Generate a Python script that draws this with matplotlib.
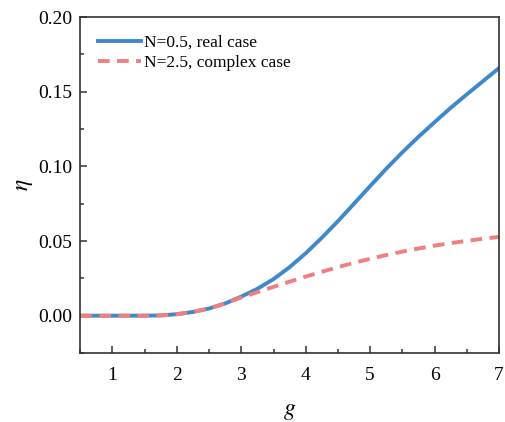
import matplotlib
matplotlib.use("Agg")
import matplotlib.pyplot as plt
from matplotlib.ticker import MultipleLocator

plt.rcParams['font.family'] = ['Liberation Serif', 'DejaVu Serif']
plt.rcParams['mathtext.fontset'] = 'stix'

# values
g = [0.5, 0.75, 1.0, 1.25, 1.5, 1.75, 2.0, 2.25, 2.5, 2.75, 3.0, 3.25, 3.5, 3.75,
     4.0, 4.25, 4.5, 4.75, 5.0, 5.25, 5.5, 5.75, 6.0, 6.25, 6.5, 6.75, 7.0]
eta_real = [0, 0, 0, 0, 0, 0.0002, 0.001, 0.0025, 0.0048, 0.0082, 0.0128, 0.0180,
            0.0245, 0.0325, 0.0418, 0.0522, 0.0633, 0.0750, 0.0868, 0.0984, 0.1094,
            0.1198, 0.1296, 0.1392, 0.1482, 0.1570, 0.1658]
eta_complex = [0, 0, 0, 0, 0, 0.0002, 0.001, 0.0025, 0.0048, 0.0082, 0.0122, 0.0158,
               0.0193, 0.0228, 0.0262, 0.0294, 0.0325, 0.0354, 0.0381, 0.0406, 0.0429,
               0.0450, 0.0469, 0.0486, 0.0501, 0.0515, 0.0528]

fig = plt.figure(figsize=(5.05, 4.22), dpi=100)
ax = fig.add_axes([0.159, 0.1635, 0.829, 0.796])

ax.plot(g, eta_real, color='#4088CC', lw=2.8, label='N=0.5, real case')
ax.plot(g, eta_complex, color='#F08080', lw=2.8, ls=(0, (3.0, 1.9)),
        label='N=2.5, complex case')

ax.set_xlim(0.5, 7)
ax.set_ylim(-0.025, 0.2)
ax.xaxis.set_major_locator(MultipleLocator(1))
ax.xaxis.set_minor_locator(MultipleLocator(0.5))
ax.yaxis.set_major_locator(MultipleLocator(0.05))
ax.yaxis.set_minor_locator(MultipleLocator(0.025))
ax.yaxis.set_major_formatter(plt.FormatStrFormatter('%.2f'))

ax.tick_params(which='both', direction='in', colors='#333333', labelcolor='black',
               labelsize=14, width=1.1)
ax.tick_params(which='major', length=5)
ax.tick_params(which='minor', length=3)
ax.tick_params(axis='x', pad=10)
ax.tick_params(axis='y', pad=6)
for s in ax.spines.values():
    s.set_color('#333333')
    s.set_linewidth(1.2)

ax.set_xlabel('$g$', fontsize=17, labelpad=12)
ax.set_ylabel(r'$\eta$', fontsize=17, labelpad=2)

ax.legend(loc='upper left', frameon=False, fontsize=12.5, handlelength=2.5,
          handletextpad=0.15, labelspacing=0.25, borderaxespad=0.6)

fig.savefig('out.png', dpi=100)
